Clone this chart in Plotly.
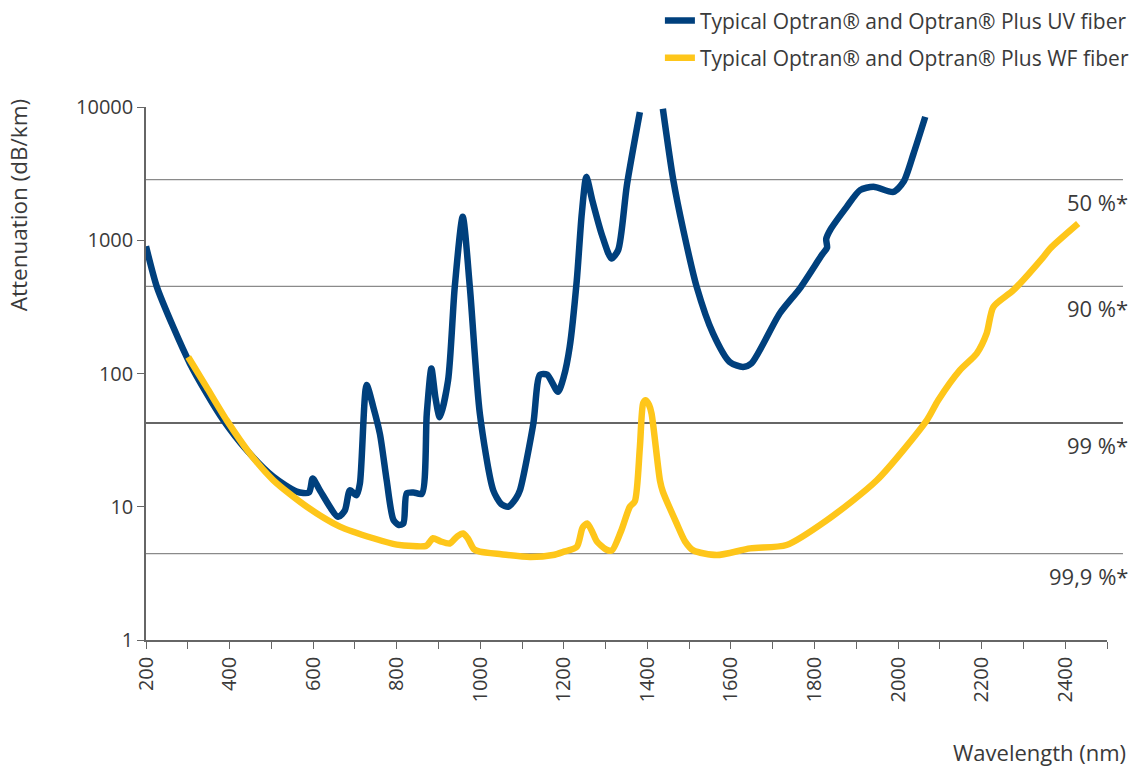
import plotly.graph_objects as go
import numpy as np

# ---- data ----
uv_wavelength = [200, 226, 265, 305, 345, 385, 441, 505, 561, 590, 599, 616, 660, 676, 688, 704, 712, 728, 744,
                 760, 776, 792, 805, 816, 824, 840, 860, 872, 883, 893, 903, 923, 939, 958, 975, 999, 1031, 1050,
                 1067, 1085, 1095, 1127, 1143, 1160, 1186, 1200, 1214, 1231, 1243, 1254, 1268, 1291, 1314, 1330,
                 1351, 1382, None, 1437, 1462, 1486, 1518, 1557, 1597, 1629, 1649, 1717, 1765, 1818, 1830, 1828,
                 1838, 1877, 1909, 1941, 1989, 2013, 2037, 2065]
uv_attenuation = [900, 447, 224, 119, 71, 44.7, 26.6, 16.8, 13, 12.8, 16.3, 13.3, 8.4, 9.4, 13.3, 12.2, 15, 82, 56,
                  35, 15.8, 8, 7.3, 7.5, 12.6, 12.8, 12.5, 50, 109, 65, 47, 89, 447, 1500, 447, 50, 13.3, 10.5,
                  10, 11.5, 13.3, 42, 98, 98, 73, 95, 158, 500, 1585, 2990, 2000, 1100, 730, 843,
                  2600, 9150, None, 9700, 2825, 1190, 447, 200, 122, 112, 119, 283, 436, 780, 880, 1020,
                  1200, 1780, 2377, 2520, 2307, 2743, 4470, 8430]

wf_wavelength = [301, 345, 393, 449, 505, 585, 664, 744, 800, 871, 880, 887, 905, 927, 945, 959, 970, 985, 999,
                 1050, 1119, 1174, 1200, 1231, 1245, 1256, 1268, 1279, 1300, 1315, 1338, 1358, 1370, 1382, 1390,
                 1396, 1404, 1410, 1430, 1437, 1470, 1490, 1510, 1566, 1646, 1733, 1829, 1949, 2069, 2096, 2148,
                 2188, 2212, 2228, 2276, 2348, 2364, 2431]
wf_attenuation = [133, 79, 44.7, 25, 15.8, 10, 7.1, 5.8, 5.2, 5.1, 5.5, 5.8, 5.5, 5.3, 6.0, 6.3, 5.8, 4.8, 4.6,
                  4.4, 4.2, 4.34, 4.6, 5.0, 7.0, 7.5, 6.5, 5.5, 4.8, 4.7, 6.7, 10, 11, 28, 60,
                  63, 58, 50, 15.8, 13, 7.5, 5.5, 4.7, 4.34, 4.87, 5.16, 7.9, 15.8, 44.7, 63, 106,
                  141, 200, 316, 422, 751, 868, 1336]

series_names = ["Typical Optran® and Optran® Plus UV fiber", "Typical Optran® and Optran® Plus WF fiber"]
series_colors = ["#00407d", "#fec61a"]

ref_levels = [2850, 450, 42.5, 4.45]
ref_labels = ["50 %*", "90 %*", "99 %*", "99,9 %*"]
ref_colors = ["#8a8a8a", "#8a8a8a", "#333333", "#8a8a8a"]

y_tickvals = [1, 10, 100, 1000, 10000]
y_ticktext = ["1", "10", "100", "1000", "10000"]

FONT = "Open Sans"
TXT = "#3a3a3a"

fig = go.Figure()
fig.add_trace(go.Scatter(x=uv_wavelength, y=uv_attenuation, mode="lines", name=series_names[0],
                         line=dict(color=series_colors[0], width=6.5, shape="spline", smoothing=0.7),
                         connectgaps=False, legendgroup="a"))
fig.add_trace(go.Scatter(x=wf_wavelength, y=wf_attenuation, mode="lines", name=series_names[1],
                         line=dict(color=series_colors[1], width=6.5, shape="spline", smoothing=0.7),
                         legendgroup="b"))

shapes = []
annotations = []
for lvl, lab, col in zip(ref_levels, ref_labels, ref_colors):
    shapes.append(dict(type="line", xref="paper", x0=0, x1=1.0166, yref="y", y0=lvl, y1=lvl,
                       line=dict(color=col, width=1.3), layer="below"))
    annotations.append(dict(text=lab, xref="paper", x=1.024, xanchor="right", yref="y", y=float(np.log10(lvl)),
                            yanchor="top", yshift=-5, showarrow=False,
                            font=dict(family=FONT, size=22, color=TXT)))

annotations.append(dict(text="Attenuation (dB/km)", xref="paper", yref="paper", x=-0.133, y=0.816,
                        xanchor="center", yanchor="middle", textangle=-90, showarrow=False,
                        font=dict(family=FONT, size=22.5, color=TXT)))
annotations.append(dict(text="Wavelength (nm)", xref="paper", yref="paper", x=1.0218, y=-0.21,
                        xanchor="right", yanchor="middle", showarrow=False,
                        font=dict(family=FONT, size=22, color=TXT)))

fig.update_layout(
    width=1135, height=769,
    margin=dict(l=146, r=28, t=107, b=129, autoexpand=False),
    paper_bgcolor="white", plot_bgcolor="white",
    font=dict(family=FONT, size=20, color=TXT),
    shapes=shapes, annotations=annotations,
    showlegend=True,
    legend=dict(x=1.028, xanchor="right", y=1.2, yanchor="top", traceorder="grouped",
                tracegroupgap=7, itemwidth=30, bgcolor="rgba(0,0,0,0)",
                font=dict(family=FONT, size=21, color=TXT)),
    xaxis=dict(range=[200, 2500], tick0=200, dtick=200, ticks="outside", ticklen=7, tickcolor="#666",
               tickangle=-90, showgrid=False, zeroline=False, showline=True, linecolor="#666", linewidth=1.5,
               minor=dict(dtick=100, tick0=200, ticks="outside", ticklen=7, tickcolor="#666"),
               tickfont=dict(family=FONT, size=20, color=TXT)),
    yaxis=dict(type="log", range=[0, 4], tickvals=y_tickvals, ticktext=y_ticktext, ticks="outside",
               ticklen=7, tickcolor="#666", showgrid=False, zeroline=False, showline=True,
               linecolor="#666", linewidth=1.5, tickfont=dict(family=FONT, size=20, color=TXT)),
)

fig.write_html("out.html", config={"displayModeBar": False},
               post_script="document.body.style.margin='0';document.body.style.overflow='hidden';")
